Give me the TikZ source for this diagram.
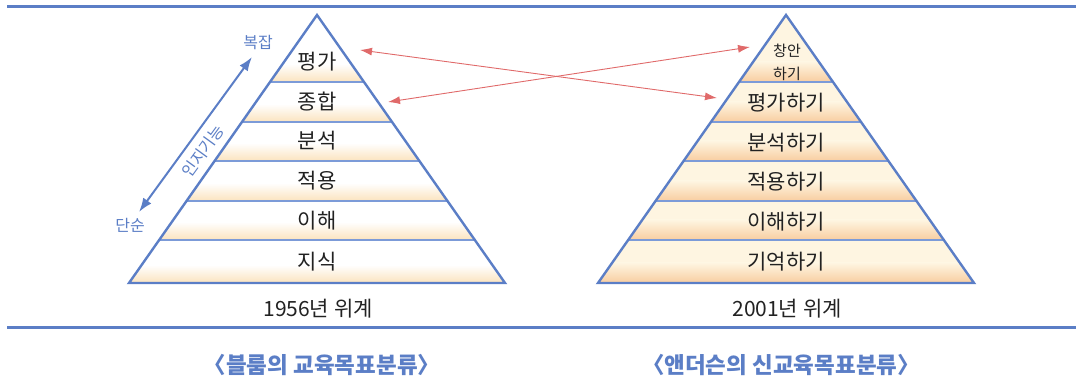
\documentclass[tikz,border=0pt]{standalone}
\usepackage{fontspec}
\setmainfont{Noto Sans CJK KR}
\usetikzlibrary{arrows.meta}
\definecolor{bl}{HTML}{5B7EC6}
\definecolor{bandline}{HTML}{7C9BD8}
\definecolor{redar}{HTML}{E06A6A}
\definecolor{creamR}{HTML}{FEF5E1}
\definecolor{peachR}{HTML}{F8CDA0}
\definecolor{peachL}{HTML}{FBE3BE}
\definecolor{txt}{HTML}{222222}
\tikzset{
  lvlabel/.style={text=txt, font=\fontsize{21}{24}\selectfont, inner sep=1pt},
  smalllabel/.style={text=txt, font=\fontsize{15}{23}\selectfont, align=center, inner sep=1pt},
  captxt/.style={text=txt, font=\fontsize{21}{24}\selectfont, inner sep=1pt},
  titletxt/.style={text=bl, font=\fontsize{22.5}{25}\selectfont\bfseries, inner sep=1pt},
  bluelab/.style={text=bl, font=\fontsize{16}{19}\selectfont, inner sep=1pt},
  pyr/.style={draw=bl, line width=2.4pt, line join=miter},
  bandln/.style={draw=bandline, line width=1.3pt},
  redarrow/.style={draw=redar, line width=0.9pt, {Latex[length=12pt,width=8pt]}-{Latex[length=12pt,width=8pt]}},
  bluearrow/.style={draw=bl, line width=2pt, {Latex[length=14pt,width=10pt]}-{Latex[length=14pt,width=10pt]}}
}
\begin{document}
\begin{tikzpicture}[x=1pt,y=1pt]
\useasboundingbox (0,0) rectangle (1076,377);
% frame lines
\coordinate (t1) at (7,370.5); \coordinate (t2) at (1076,370.5);
\coordinate (b1) at (7,49); \coordinate (b2) at (1076,49);
\draw[bl, line width=2.5pt] (t1) -- (t2);
\draw[bl, line width=3pt] (b1) -- (b2);

% left pyramid
\coordinate (LA) at (317,362); \coordinate (LB1) at (129,94); \coordinate (LB2) at (505,94);
\begin{scope}
  \clip (LA) -- (LB1) -- (LB2) -- cycle;
  \fill[white] (100,90) rectangle (540,370);
  \foreach \yb in {94,137,176,216,255,295} {
    \shade[top color=white, bottom color=peachL] (100,\yb) rectangle (540,\yb+18);
  }
  \foreach \y in {137,176,216,255,295} { \draw[bandln] (100,\y) -- (540,\y); }
\end{scope}
\draw[pyr] (LA) -- (LB1) -- (LB2) -- cycle;

% right pyramid
\coordinate (RA) at (786,362); \coordinate (RB1) at (598,94); \coordinate (RB2) at (974,94);
\begin{scope}
  \clip (RA) -- (RB1) -- (RB2) -- cycle;
  \fill[creamR] (570,90) rectangle (1010,370);
  \foreach \yb in {94,137,176,216,255,295} {
    \shade[top color=creamR, bottom color=peachR] (570,\yb) rectangle (1010,\yb+20);
  }
  \foreach \y in {137,176,216,255,295} { \draw[bandln] (570,\y) -- (1010,\y); }
\end{scope}
\draw[pyr] (RA) -- (RB1) -- (RB2) -- cycle;

% left labels
\node[lvlabel] (l6) at (317,315) {평가};
\node[lvlabel] (l5) at (317,275) {종합};
\node[lvlabel] (l4) at (317,236) {분석};
\node[lvlabel] (l3) at (317,196) {적용};
\node[lvlabel] (l2) at (317,156) {이해};
\node[lvlabel] (l1) at (317,115) {지식};
% right labels
\node[smalllabel] (r6) at (787,315) {창안\\하기};
\node[lvlabel] (r5) at (786,274) {평가하기};
\node[lvlabel] (r4) at (786,234) {분석하기};
\node[lvlabel] (r3) at (786,195) {적용하기};
\node[lvlabel] (r2) at (786,155) {이해하기};
\node[lvlabel] (r1) at (786,115) {기억하기};

% captions
\node[captxt] (c1) at (318,68.5) {1956년 위계};
\node[captxt] (c2) at (787,68.5) {2001년 위계};
\node[titletxt] (tt1) at (322,12) {〈블룸의 교육목표분류〉};
\node[titletxt] (tt2) at (781,12) {〈앤더슨의 신교육목표분류〉};

% blue arrow
\coordinate (cx) at (252,320);
\coordinate (sx) at (139,165);
\draw[bluearrow] (sx) -- (cx);
\node[bluelab, fill=white, rotate=54, inner sep=0.5pt] (cog) at (203,226) {인지기능};
\node[bluelab] (cplx) at (258,334) {복잡};
\node[bluelab] (simp) at (130,152) {단순};

% red arrows
\coordinate (a1) at (360,327); \coordinate (a2) at (717,279);
\coordinate (b1r) at (388,275); \coordinate (b2r) at (750,330);
\draw[redarrow] (a1) -- (a2);
\draw[redarrow] (b1r) -- (b2r);
\end{tikzpicture}
\end{document}
